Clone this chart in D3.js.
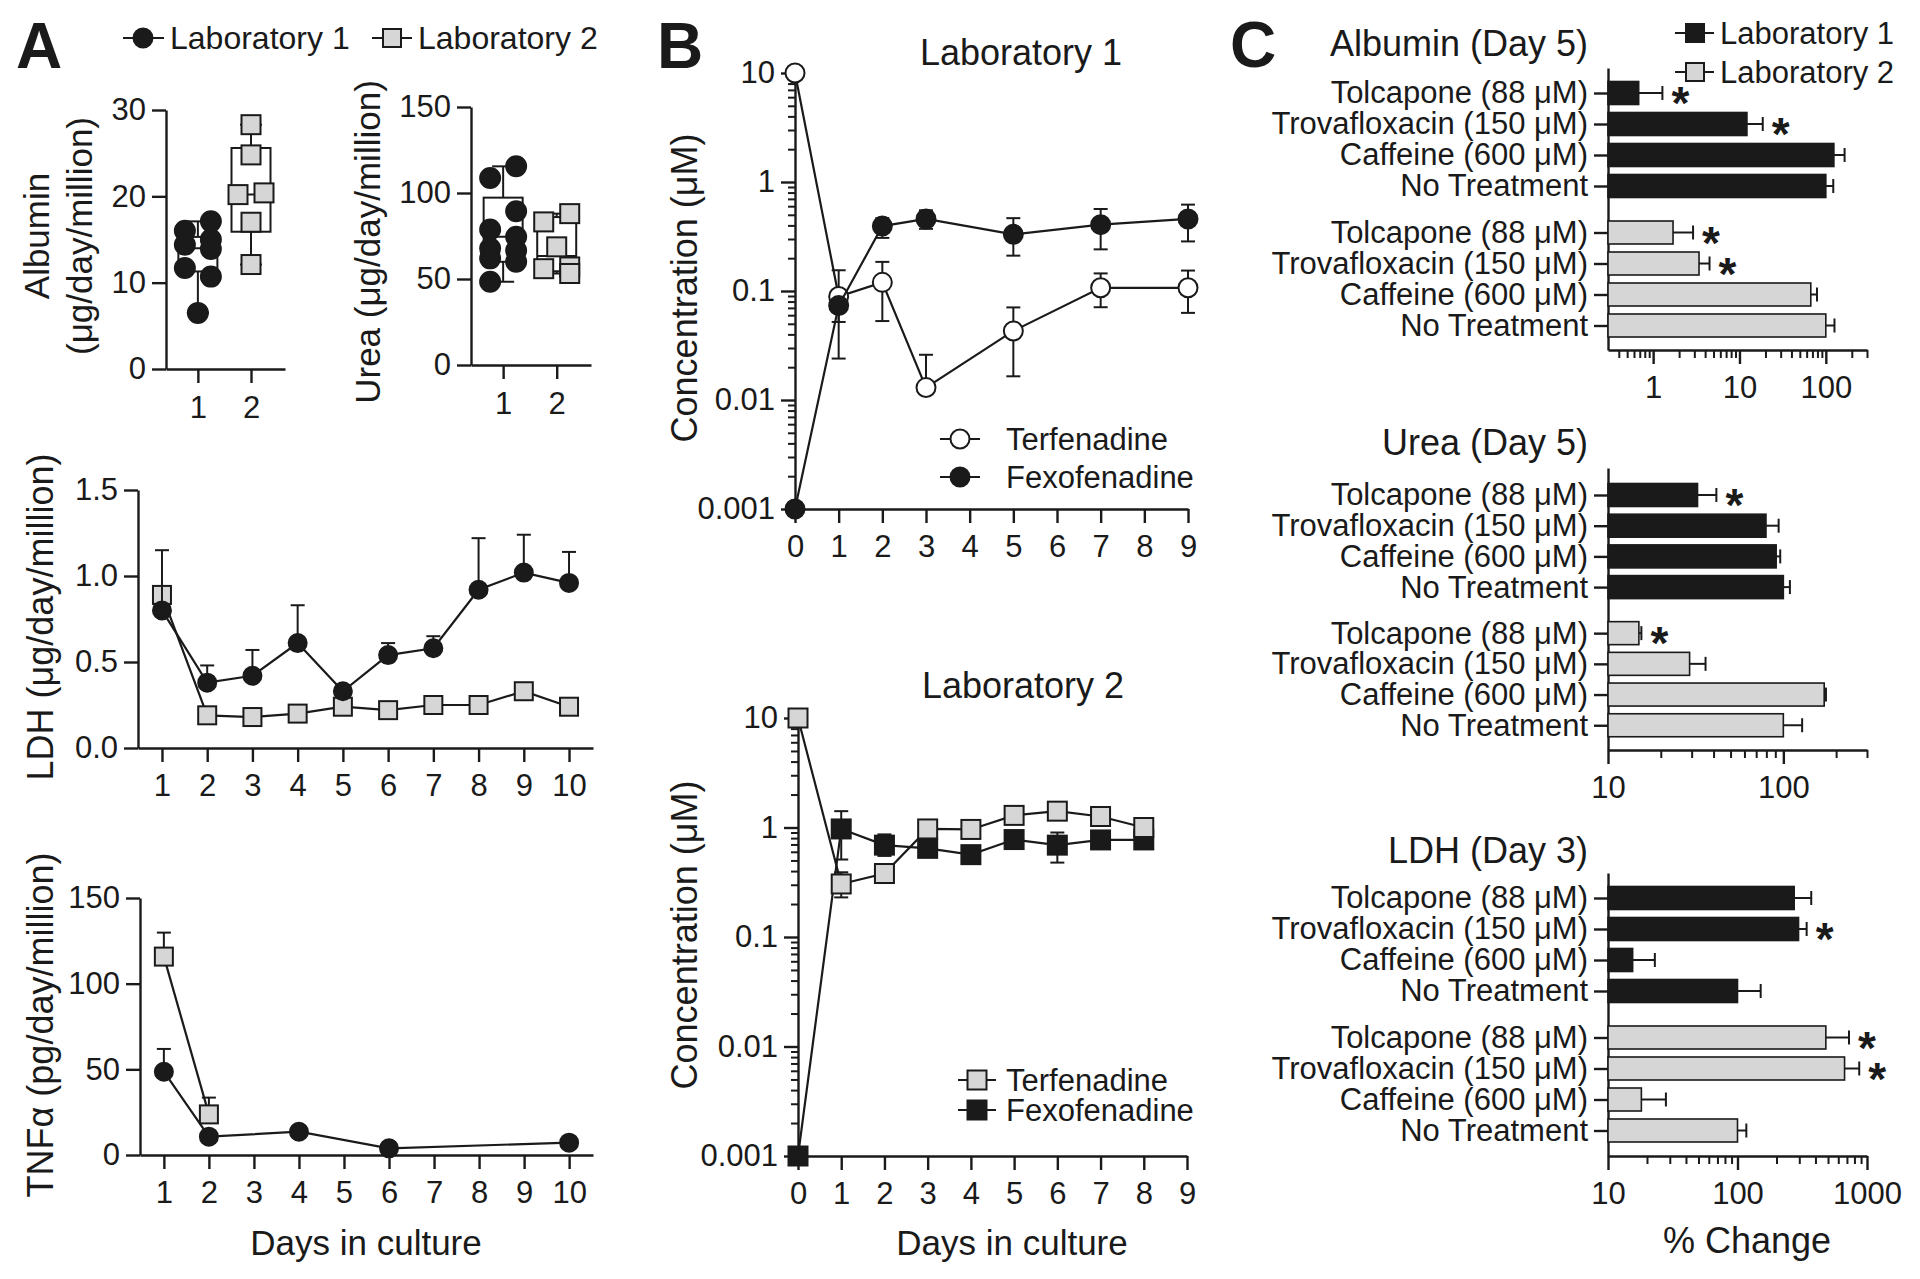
<!DOCTYPE html>
<html><head><meta charset="utf-8">
<script src="https://cdn.jsdelivr.net/npm/d3@7"></script>
<style>html,body{margin:0;padding:0;background:#fff;}</style>
</head><body>
<svg id="chart" width="1920" height="1279"></svg>
<script>
// ---------------- DATA ----------------
const labNames = ["Laboratory 1", "Laboratory 2"];
// Panel A – box plots (individual points + [min, Q1, median, Q3, max])
const albuminLab1 = [17.1, 16.0, 15.0, 14.4, 13.9, 11.7, 10.7, 6.5];
const albuminLab2 = [28.3, 24.8, 20.2, 20.4, 17.0, 12.1];
const albuminBoxLab1 = [6.5, 11.3, 14.0, 15.3, 17.1];
const albuminBoxLab2 = [12.1, 15.9, 20.2, 25.6, 28.3];
const ureaLab1 = [115.5, 108.7, 89.4, 78.8, 74.5, 67.7, 66.5, 62.0, 60.0, 48.4];
const ureaLab2 = [88.0, 83.2, 68.7, 57.0, 56.0, 53.2];
const ureaBoxLab1 = [48.4, 60.0, 74.5, 97.3, 115.5];
const ureaBoxLab2 = [53.2, 54.5, 63.3, 86.0, 88.0];
const albuminTicks = [0, 10, 20, 30];
const ureaTicks = [0, 50, 100, 150];
// Panel A – LDH time course
const ldhDays = [1, 2, 3, 4, 5, 6, 7, 8, 9, 10];
const ldhLab1 = [0.80, 0.38, 0.42, 0.61, 0.33, 0.54, 0.58, 0.92, 1.02, 0.96];
const ldhLab1Hi = [1.15, 0.48, 0.57, 0.83, null, 0.61, 0.65, 1.22, 1.24, 1.14];
const ldhLab2 = [0.89, 0.19, 0.18, 0.20, 0.24, 0.22, 0.25, 0.25, 0.33, 0.24];
const ldhTicks = [0, 0.5, 1.0, 1.5];
// Panel A – TNFα
const tnfDaysLab1 = [1, 2, 4, 6, 10];
const tnfLab1 = [48.6, 10.7, 13.6, 3.9, 7.2];
const tnfLab1Hi = [61.9, null, null, null, null];
const tnfDaysLab2 = [1, 2];
const tnfLab2 = [115.8, 23.7];
const tnfLab2Hi = [129.8, 33.5];
const tnfTicks = [0, 50, 100, 150];
const dayTicksA = [1, 2, 3, 4, 5, 6, 7, 8, 9, 10];
// Panel B – Laboratory 1
const bDaysLab1 = [0, 1, 2, 3, 5, 7, 9];
const terfLab1 = [10, 0.089, 0.12, 0.013, 0.043, 0.107, 0.107];
const terfLab1Lo = [null, 0.052, 0.053, null, 0.0165, 0.071, 0.063];
const terfLab1Hi = [null, 0.155, 0.185, 0.026, 0.0707, 0.145, 0.154];
const fexoLab1 = [0.001, 0.0735, 0.394, 0.458, 0.331, 0.406, 0.458];
const fexoLab1Lo = [null, 0.024, 0.307, 0.372, 0.211, 0.241, 0.285];
const fexoLab1Hi = [null, null, 0.466, 0.55, 0.466, 0.565, 0.62];
// Panel B – Laboratory 2
const bDaysLab2 = [0, 1, 2, 3, 4, 5, 6, 7, 8];
const terfLab2 = [10, 0.305, 0.38, 0.97, 0.96, 1.29, 1.41, 1.26, 1.0];
const terfLab2Lo = [null, 0.23, null, null, null, null, null, null, null];
const terfLab2Hi = [null, 0.39, null, null, null, null, null, null, null];
const fexoLab2 = [0.001, 0.97, 0.69, 0.645, 0.565, 0.776, 0.69, 0.77, 0.77];
const fexoLab2Lo = [null, 0.51, 0.55, null, null, null, 0.478, null, null];
const fexoLab2Hi = [null, 1.41, 0.865, null, null, null, 0.9, null, null];
const concTicks = [0.001, 0.01, 0.1, 1, 10];
const concTickLabels = ["0.001", "0.01", "0.1", "1", "10"];
const dayTicksB = [0, 1, 2, 3, 4, 5, 6, 7, 8, 9];
const drugNames = ["Terfenadine", "Fexofenadine"];
// Panel C – % change
const treatments = ["Tolcapone (88 μM)", "Trovafloxacin (150 μM)", "Caffeine (600 μM)", "No Treatment"];
const albPctLab1 = [0.68, 12.2, 124, 100];
const albPctLab1Err = [1.28, 18.6, 165, 122];
const albPctLab2 = [1.7, 3.4, 67, 100];
const albPctLab2Err = [2.9, 4.5, 79, 126];
const albSigLab1 = [true, true, false, false];
const albSigLab2 = [true, true, false, false];
const ureaPctLab1 = [32.4, 79.6, 91, 100];
const ureaPctLab1Err = [41.5, 94, 96, 109];
const ureaPctLab2 = [15, 29.2, 171, 100];
const ureaPctLab2Err = [15.5, 36, 175, 128];
const ureaSigLab1 = [true, false, false, false];
const ureaSigLab2 = [true, false, false, false];
const ldhPctLab1 = [274, 296, 15.5, 100];
const ldhPctLab1Err = [371, 342, 23, 151];
const ldhPctLab2 = [481, 671, 18.1, 100];
const ldhPctLab2Err = [726, 871, 28, 117];
const ldhSigLab1 = [false, true, false, false];
const ldhSigLab2 = [true, true, false, false];
const albPctTicks = [1, 10, 100];
const ureaPctTicks = [10, 100];
const ldhPctTicks = [10, 100, 1000];

// ---------------- DRAWING ----------------
const svg = d3.select("#chart");
const FONT = '"Liberation Sans", Arial, Helvetica, sans-serif';
const INK = "#1a1a1a";
const GREY = "#d6d6d6";
const LW = 2.2;
svg.append("rect").attr("width", 1920).attr("height", 1279).attr("fill", "#fff");

function txt(x, y, s, fs, o = {}) {
  const t = svg.append("text").attr("x", x).attr("y", y).attr("font-family", FONT)
    .attr("font-size", fs).attr("fill", INK).text(s);
  if (o.anchor) t.attr("text-anchor", o.anchor);
  if (o.baseline) t.attr("dominant-baseline", o.baseline);
  if (o.weight) t.attr("font-weight", o.weight);
  return t;
}
function rotLabel(x, y, s, fs = 36) {
  svg.append("text").attr("transform", `translate(${x},${y}) rotate(-90)`)
    .attr("text-anchor", "middle").attr("dominant-baseline", "central")
    .attr("font-family", FONT).attr("font-size", fs).attr("fill", INK).text(s);
}
function marker(g, shape, cx, cy, size, fill) {
  if (shape === "circle")
    g.append("circle").attr("cx", cx).attr("cy", cy).attr("r", size / 2)
      .attr("fill", fill).attr("stroke", INK).attr("stroke-width", 2);
  else
    g.append("rect").attr("x", cx - size / 2).attr("y", cy - size / 2)
      .attr("width", size).attr("height", size).attr("fill", fill)
      .attr("stroke", INK).attr("stroke-width", 2);
}
function drawAxis(g, axis, fs = 31) {
  g.call(axis);
  g.attr("font-family", FONT).attr("font-size", fs).attr("color", INK);
  g.selectAll("path.domain").attr("stroke-width", 2.4);
  g.selectAll(".tick line").attr("stroke-width", 2.4);
  g.selectAll(".tick text").attr("fill", INK);
  return g;
}
function minorLog(domain) {
  const out = [];
  const lo = Math.floor(Math.log10(domain[0])), hi = Math.ceil(Math.log10(domain[1]));
  for (let d = lo; d <= hi; d++) for (let m = 2; m <= 9; m++) {
    const v = m * Math.pow(10, d);
    if (v > domain[0] * 1.0001 && v <= domain[1] * 1.0001) out.push(v);
  }
  return out;
}

// panel letters
txt(16, 68, "A", 64, { weight: "bold" });
txt(657, 68, "B", 64, { weight: "bold" });
txt(1230, 67, "C", 64, { weight: "bold" });

// ---------- A: legend ----------
(function () {
  const g = svg.append("g");
  g.append("line").attr("x1", 123).attr("x2", 164).attr("y1", 38).attr("y2", 38).attr("stroke", INK).attr("stroke-width", LW);
  marker(g, "circle", 143, 38, 19, INK);
  txt(170, 38, labNames[0], 32, { baseline: "central" });
  g.append("line").attr("x1", 372).attr("x2", 412).attr("y1", 38).attr("y2", 38).attr("stroke", INK).attr("stroke-width", LW);
  marker(g, "rect", 392, 38, 18, GREY);
  txt(418, 38, labNames[1], 32, { baseline: "central" });
})();

// ---------- A: box plots ----------
function boxPanel(p) {
  const x = d3.scaleLinear().domain([0.4, 2.64]).range([p.left, p.right]);
  const y = d3.scaleLinear().domain([p.yTicks[0], p.yTicks[p.yTicks.length - 1]]).range([p.bottom, p.top]);
  drawAxis(svg.append("g").attr("transform", `translate(${p.left},0)`),
    d3.axisLeft(y).tickValues(p.yTicks).tickSize(14).tickPadding(6).tickSizeOuter(0));
  drawAxis(svg.append("g").attr("transform", `translate(0,${p.bottom})`),
    d3.axisBottom(x).tickValues([1, 2]).tickFormat(d3.format("d")).tickSize(14).tickPadding(13).tickSizeOuter(0));
  p.groups.forEach((grp, gi) => {
    const cx = x(gi + 1);
    const [mn, q1, md, q3, mx] = grp.box;
    const bw = 39, cw = 22;
    const g = svg.append("g").attr("stroke", INK).attr("stroke-width", 2);
    g.append("line").attr("x1", cx).attr("x2", cx).attr("y1", y(mx)).attr("y2", y(q3));
    g.append("line").attr("x1", cx).attr("x2", cx).attr("y1", y(q1)).attr("y2", y(mn));
    g.append("line").attr("x1", cx - cw / 2).attr("x2", cx + cw / 2).attr("y1", y(mx)).attr("y2", y(mx));
    g.append("line").attr("x1", cx - cw / 2).attr("x2", cx + cw / 2).attr("y1", y(mn)).attr("y2", y(mn));
    g.append("rect").attr("x", cx - bw / 2).attr("width", bw).attr("y", y(q3)).attr("height", y(q1) - y(q3)).attr("fill", "#fff");
    g.append("line").attr("x1", cx - bw / 2).attr("x2", cx + bw / 2).attr("y1", y(md)).attr("y2", y(md));
    // simple alternating dodge for crowded points
    const pts = grp.vals.map(v => ({ v, py: y(v) })).sort((a, b) => b.v - a.v);
    const r = 10, s = 13;
    let k = 0;
    pts.forEach(pt => {
      const crowded = pts.some(o => o !== pt && Math.abs(o.py - pt.py) < 2 * r);
      if (crowded) { pt.dx = (k % 2 === 0 ? 1 : -1) * s; k++; } else pt.dx = 0;
    });
    pts.forEach(pt => marker(svg, grp.shape, cx + pt.dx, pt.py, grp.shape === "circle" ? 20 : 19, grp.fill));
  });
}
boxPanel({ left: 166, right: 285, top: 110, bottom: 369, yTicks: albuminTicks,
  groups: [{ vals: albuminLab1, box: albuminBoxLab1, shape: "circle", fill: INK },
           { vals: albuminLab2, box: albuminBoxLab2, shape: "rect", fill: GREY }] });
boxPanel({ left: 471, right: 591, top: 107, bottom: 365, yTicks: ureaTicks,
  groups: [{ vals: ureaLab1, box: ureaBoxLab1, shape: "circle", fill: INK },
           { vals: ureaLab2, box: ureaBoxLab2, shape: "rect", fill: GREY }] });
rotLabel(36, 236, "Albumin", 35);
rotLabel(79, 236, "(μg/day/million)", 35);
rotLabel(367, 242, "Urea (μg/day/million)", 35);

// ---------- generic line panel ----------
function linePanel(p) {
  const x = d3.scaleLinear().domain(p.xDomain).range([p.left, p.right]);
  const y = (p.log ? d3.scaleLog() : d3.scaleLinear()).domain(p.yDomain).range([p.bottom, p.top]);
  const ya = d3.axisLeft(y).tickValues(p.yTicks).tickSize(14).tickPadding(6).tickSizeOuter(0);
  if (p.yLabels) ya.tickFormat((d, i) => p.yLabels[i]);
  else ya.tickFormat(p.yFormat);
  drawAxis(svg.append("g").attr("transform", `translate(${p.left},0)`), ya);
  if (p.log) {
    const gm = svg.append("g").attr("transform", `translate(${p.left},0)`);
    gm.call(d3.axisLeft(y).tickValues(minorLog(p.yDomain).filter(v => !p.yTicks.includes(v))).tickSize(7).tickFormat(""));
    gm.select("path.domain").remove();
    gm.attr("color", INK).selectAll("line").attr("stroke-width", 2);
  }
  drawAxis(svg.append("g").attr("transform", `translate(0,${p.bottom})`),
    d3.axisBottom(x).tickValues(p.xTicks).tickFormat(d3.format("d")).tickSize(14).tickPadding(12).tickSizeOuter(0));
  p.series.forEach(s => {
    const g = svg.append("g");
    const pts = s.days.map((d, i) => ({ d, v: s.vals[i], lo: s.lo ? s.lo[i] : null, hi: s.hi ? s.hi[i] : null }));
    g.append("path").datum(pts).attr("fill", "none").attr("stroke", INK).attr("stroke-width", LW)
      .attr("d", d3.line().x(q => x(q.d)).y(q => y(q.v)));
    pts.forEach(q => {
      const cx = x(q.d);
      [q.lo, q.hi].forEach(e => {
        if (e == null) return;
        g.append("line").attr("x1", cx).attr("x2", cx).attr("y1", y(q.v)).attr("y2", y(e)).attr("stroke", INK).attr("stroke-width", 2);
        g.append("line").attr("x1", cx - 7).attr("x2", cx + 7).attr("y1", y(e)).attr("y2", y(e)).attr("stroke", INK).attr("stroke-width", 2);
      });
    });
    pts.forEach(q => marker(g, s.shape, x(q.d), y(q.v), s.size, s.fill));
  });
}

// LDH
linePanel({ left: 138, right: 593, top: 490, bottom: 748, xDomain: [0.47, 10.53], yDomain: [0, 1.5],
  yTicks: ldhTicks, yFormat: d3.format(".1f"), xTicks: dayTicksA,
  series: [
    { days: ldhDays, vals: ldhLab2, shape: "rect", fill: GREY, size: 18 },
    { days: ldhDays, vals: ldhLab1, hi: ldhLab1Hi, shape: "circle", fill: INK, size: 18 }
  ] });
rotLabel(40, 617, "LDH (μg/day/million)", 36);

// TNF
linePanel({ left: 140, right: 593, top: 898, bottom: 1155, xDomain: [0.47, 10.53], yDomain: [0, 150],
  yTicks: tnfTicks, yFormat: d3.format("d"), xTicks: dayTicksA,
  series: [
    { days: tnfDaysLab2, vals: tnfLab2, hi: tnfLab2Hi, shape: "rect", fill: GREY, size: 18 },
    { days: tnfDaysLab1, vals: tnfLab1, hi: tnfLab1Hi, shape: "circle", fill: INK, size: 18 }
  ] });
rotLabel(40, 1025, "TNFα  (pg/day/million)", 36);
txt(366, 1242, "Days in culture", 35, { anchor: "middle", baseline: "central" });

// ---------- B ----------
linePanel({ left: 795, right: 1188, top: 73, bottom: 509, xDomain: [0, 9], yDomain: [0.001, 10], log: true,
  yTicks: concTicks, yLabels: concTickLabels, xTicks: dayTicksB,
  series: [
    { days: bDaysLab1, vals: terfLab1, lo: terfLab1Lo, hi: terfLab1Hi, shape: "circle", fill: "#fff", size: 19 },
    { days: bDaysLab1, vals: fexoLab1, lo: fexoLab1Lo, hi: fexoLab1Hi, shape: "circle", fill: INK, size: 19 }
  ] });
txt(1021, 52, "Laboratory 1", 36, { anchor: "middle", baseline: "central" });
rotLabel(684, 288, "Concentration  (μM)", 36);
(function () {
  const g = svg.append("g");
  [[439, "#fff", drugNames[0]], [477, INK, drugNames[1]]].forEach(([yy, f, nm]) => {
    g.append("line").attr("x1", 940).attr("x2", 980).attr("y1", yy).attr("y2", yy).attr("stroke", INK).attr("stroke-width", LW);
    marker(g, "circle", 960, yy, 19, f);
    txt(1006, yy, nm, 31, { baseline: "central" });
  });
})();

linePanel({ left: 798, right: 1187, top: 718, bottom: 1156, xDomain: [0, 9], yDomain: [0.001, 10], log: true,
  yTicks: concTicks, yLabels: concTickLabels, xTicks: dayTicksB,
  series: [
    { days: bDaysLab2, vals: fexoLab2, lo: fexoLab2Lo, hi: fexoLab2Hi, shape: "rect", fill: INK, size: 19 },
    { days: bDaysLab2, vals: terfLab2, lo: terfLab2Lo, hi: terfLab2Hi, shape: "rect", fill: GREY, size: 19 }
  ] });
txt(1023, 685, "Laboratory 2", 36, { anchor: "middle", baseline: "central" });
rotLabel(684, 935, "Concentration  (μM)", 36);
txt(1012, 1242, "Days in culture", 35, { anchor: "middle", baseline: "central" });
(function () {
  const g = svg.append("g");
  [[1080, GREY, drugNames[0]], [1110, INK, drugNames[1]]].forEach(([yy, f, nm]) => {
    g.append("line").attr("x1", 958).attr("x2", 996).attr("y1", yy).attr("y2", yy).attr("stroke", INK).attr("stroke-width", LW);
    marker(g, "rect", 977, yy, 19, f);
    txt(1006, yy, nm, 31, { baseline: "central" });
  });
})();

// ---------- C ----------
function barPanel(p) {
  const x = d3.scaleLog().domain(p.xDomain).range([1608, 1867]);
  const kTop = (p.top - p.row0) / p.step, kBot = (p.bottom - p.row0) / p.step;
  const y = d3.scaleLinear().domain([kTop, kBot]).range([p.top, p.bottom]);
  const rowsK = [0, 1, 2, 3, 4.5, 5.5, 6.5, 7.5];
  drawAxis(svg.append("g").attr("transform", "translate(1608,0)"),
    d3.axisLeft(y).tickValues(rowsK).tickFormat((d, i) => treatments[i % 4]).tickSize(14).tickPadding(6).tickSizeOuter(0));
  drawAxis(svg.append("g").attr("transform", `translate(0,${p.bottom})`),
    d3.axisBottom(x).tickValues(p.xTicks).tickFormat(d3.format("d")).tickSize(14).tickPadding(12).tickSizeOuter(0));
  const gm = svg.append("g").attr("transform", `translate(0,${p.bottom})`);
  gm.call(d3.axisBottom(x).tickValues(minorLog(p.xDomain).filter(v => !p.xTicks.includes(v))).tickSize(8).tickFormat(""));
  gm.select("path.domain").remove();
  gm.attr("color", INK).selectAll("line").attr("stroke-width", 2);
  const bh = 23;
  p.groups.forEach((grp, gi) => {
    grp.vals.forEach((v, i) => {
      const k = gi * 4.5 + i, cy = y(k);
      const g = svg.append("g");
      g.append("line").attr("x1", x(v)).attr("x2", x(grp.err[i])).attr("y1", cy).attr("y2", cy).attr("stroke", INK).attr("stroke-width", 2);
      g.append("line").attr("x1", x(grp.err[i])).attr("x2", x(grp.err[i])).attr("y1", cy - 7).attr("y2", cy + 7).attr("stroke", INK).attr("stroke-width", 2);
      g.append("rect").attr("x", x(p.xDomain[0])).attr("y", cy - bh / 2).attr("width", x(v) - x(p.xDomain[0])).attr("height", bh)
        .attr("fill", grp.fill).attr("stroke", INK).attr("stroke-width", 1.6);
      if (grp.sig[i]) txt(x(grp.err[i]) + 18, cy + 26, "*", 46, { anchor: "middle", weight: "bold" });
    });
  });
  txt(1588, p.titleY, p.title, 36, { anchor: "end", baseline: "central" });
}
barPanel({ title: "Albumin (Day 5)", titleY: 43, xDomain: [0.3, 300], xTicks: albPctTicks, row0: 93, step: 31, top: 68, bottom: 350,
  groups: [{ vals: albPctLab1, err: albPctLab1Err, sig: albSigLab1, fill: INK },
           { vals: albPctLab2, err: albPctLab2Err, sig: albSigLab2, fill: GREY }] });
barPanel({ title: "Urea (Day 5)", titleY: 442, xDomain: [10, 300], xTicks: ureaPctTicks, row0: 495, step: 30.7, top: 468, bottom: 750,
  groups: [{ vals: ureaPctLab1, err: ureaPctLab1Err, sig: ureaSigLab1, fill: INK },
           { vals: ureaPctLab2, err: ureaPctLab2Err, sig: ureaSigLab2, fill: GREY }] });
barPanel({ title: "LDH (Day 3)", titleY: 850, xDomain: [10, 1000], xTicks: ldhPctTicks, row0: 898, step: 31, top: 873, bottom: 1156,
  groups: [{ vals: ldhPctLab1, err: ldhPctLab1Err, sig: ldhSigLab1, fill: INK },
           { vals: ldhPctLab2, err: ldhPctLab2Err, sig: ldhSigLab2, fill: GREY }] });
txt(1747, 1240, "% Change", 36, { anchor: "middle", baseline: "central" });
(function () {
  const g = svg.append("g");
  [[33, INK, labNames[0]], [72, GREY, labNames[1]]].forEach(([yy, f, nm]) => {
    g.append("line").attr("x1", 1675).attr("x2", 1714).attr("y1", yy).attr("y2", yy).attr("stroke", INK).attr("stroke-width", LW);
    marker(g, "rect", 1695, yy, 18, f);
    txt(1720, yy, nm, 31, { baseline: "central" });
  });
})();
</script>
</body></html>
